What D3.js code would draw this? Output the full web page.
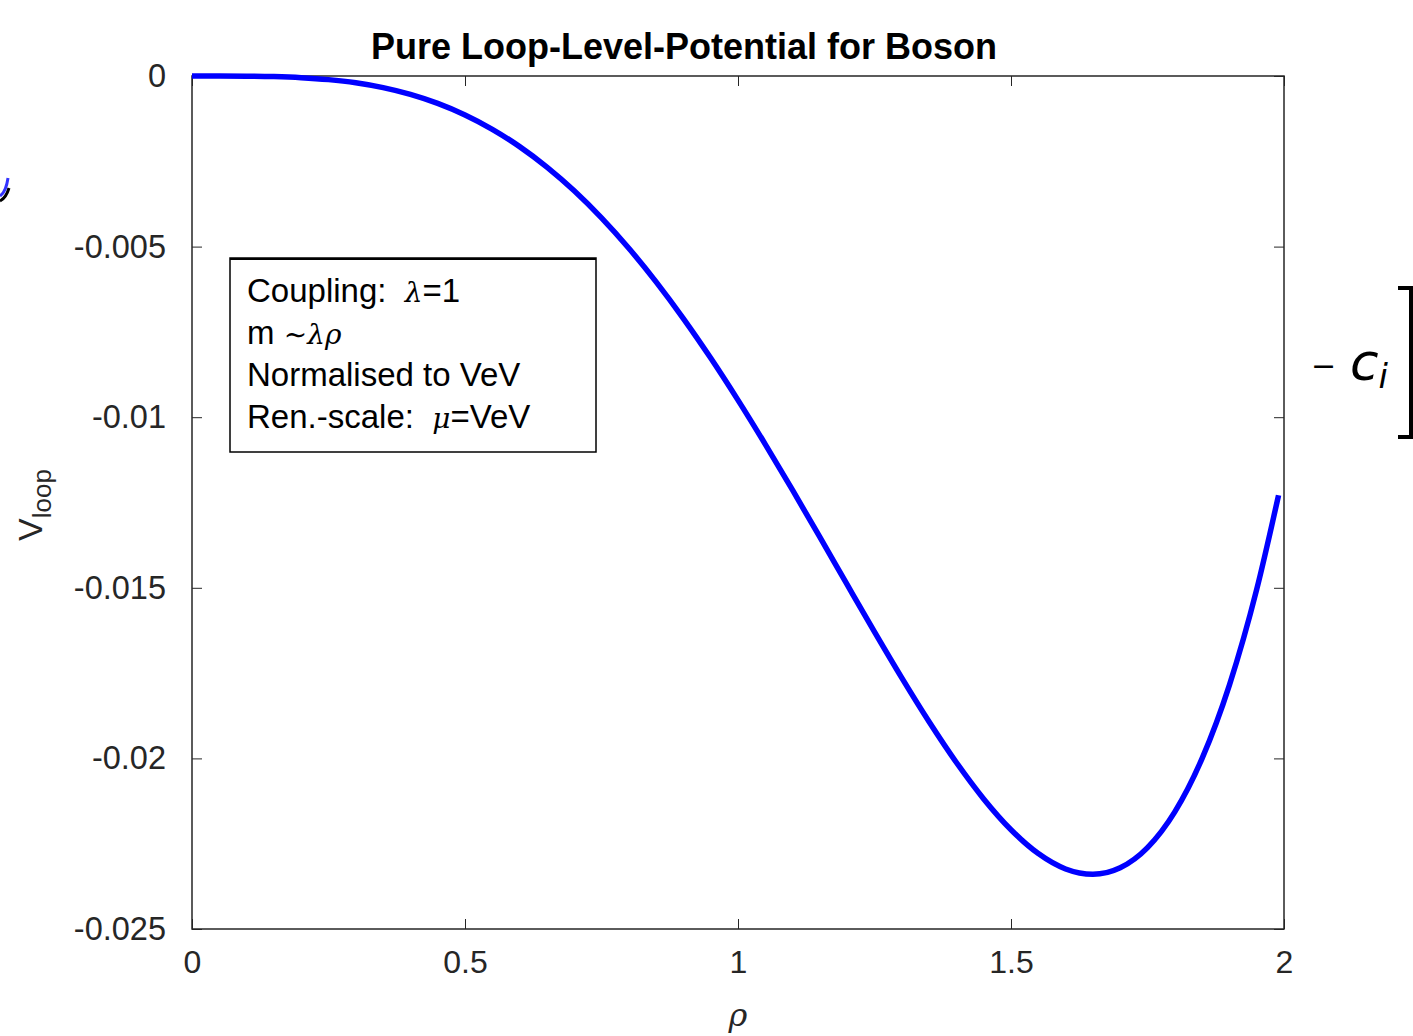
<!DOCTYPE html>
<html>
<head>
<meta charset="utf-8">
<script src="https://cdn.jsdelivr.net/npm/d3@7"></script>
<style>
  body { margin: 0; background: #fff; }
  svg { display: block; }
  text { white-space: pre; }
</style>
</head>
<body>
<div id="chart"></div>
<script>
// rho values and the loop potential
const rho = [0, 0.05, 0.1, 0.15, 0.2, 0.25, 0.3, 0.35, 0.4, 0.45, 0.5,
  0.55, 0.6, 0.65, 0.7, 0.75, 0.8, 0.85, 0.9, 0.95, 1.0,
  1.05, 1.1, 1.15, 1.2, 1.25, 1.3, 1.35, 1.4, 1.45, 1.5,
  1.55, 1.6, 1.65, 1.7, 1.75, 1.8, 1.85, 1.9, 1.95, 1.99];
const vloop = [0, -0.0000003, -0.0000039, -0.000017, -0.000048, -0.000106, -0.000200, -0.000342, -0.000540, -0.000804, -0.001142,
  -0.001562, -0.002070, -0.002670, -0.003365, -0.004158, -0.005048, -0.006033, -0.007108, -0.008266, -0.009499,
  -0.010795, -0.012140, -0.013518, -0.014909, -0.016291, -0.017639, -0.018926, -0.020120, -0.021187, -0.022091,
  -0.022790, -0.023240, -0.023396, -0.023205, -0.022615, -0.021567, -0.020000, -0.017850, -0.015048, -0.012288];

const xTicks = [0, 0.5, 1, 1.5, 2];
const xTickLabels = ["0", "0.5", "1", "1.5", "2"];
const yTicks = [0, -0.005, -0.01, -0.015, -0.02, -0.025];
const yTickLabels = ["0", "-0.005", "-0.01", "-0.015", "-0.02", "-0.025"];

const legendLines = [
  [{t: "Coupling:  "}, {t: "\u03bb", s: true}, {t: "=1"}],
  [{t: "m "}, {t: "\u223c\u03bb\u03c1", s: true}],
  [{t: "Normalised to VeV"}],
  [{t: "Ren.-scale:  "}, {t: "\u03bc", s: true}, {t: "=VeV"}]
];

const width = 1413, height = 1036;
const plotL = 192, plotR = 1284, plotT = 76, plotB = 929;
const axisColor = "#262626";
const sans = "'Liberation Sans', Arial, Helvetica, sans-serif";
const serif = "'DejaVu Serif', 'Liberation Serif', serif";

const svg = d3.select("#chart").append("svg")
  .attr("width", width)
  .attr("height", height);

const x = d3.scaleLinear().domain([0, 2]).range([plotL, plotR]);
const y = d3.scaleLinear().domain([-0.025, 0]).range([plotB, plotT]);

const data = rho.map((r, i) => ({ r: r, v: vloop[i] }));

// axes box with inward ticks on all sides
const tickLen = 10;
svg.append("g")
  .attr("transform", `translate(0,${plotB})`)
  .call(d3.axisBottom(x).tickValues(xTicks).tickSize(-tickLen).tickPadding(21)
    .tickFormat((d, i) => xTickLabels[i]))
  .call(g => g.select(".domain").remove())
  .call(g => g.selectAll("line").attr("stroke", axisColor))
  .call(g => g.selectAll("text").attr("fill", "#262626")
    .style("font-family", sans).style("font-size", "32px"));

svg.append("g")
  .attr("transform", `translate(0,${plotT})`)
  .call(d3.axisTop(x).tickValues(xTicks).tickSize(-tickLen).tickFormat(""))
  .call(g => g.select(".domain").remove())
  .call(g => g.selectAll("line").attr("stroke", axisColor));

svg.append("g")
  .attr("transform", `translate(${plotL},0)`)
  .call(d3.axisLeft(y).tickValues(yTicks).tickSize(-tickLen).tickPadding(26)
    .tickFormat((d, i) => yTickLabels[i]))
  .call(g => g.select(".domain").remove())
  .call(g => g.selectAll("line").attr("stroke", axisColor))
  .call(g => g.selectAll("text").attr("fill", "#262626")
    .style("font-family", sans).style("font-size", "32.5px"));

svg.append("g")
  .attr("transform", `translate(${plotR},0)`)
  .call(d3.axisRight(y).tickValues(yTicks).tickSize(-tickLen).tickFormat(""))
  .call(g => g.select(".domain").remove())
  .call(g => g.selectAll("line").attr("stroke", axisColor));

svg.append("rect")
  .attr("x", plotL).attr("y", plotT)
  .attr("width", plotR - plotL).attr("height", plotB - plotT)
  .attr("fill", "none")
  .attr("stroke", axisColor)
  .attr("stroke-width", 1.5);

// the curve
const line = d3.line()
  .x(d => x(d.r))
  .y(d => y(d.v))
  .curve(d3.curveMonotoneX);

svg.append("path")
  .datum(data)
  .attr("d", line)
  .attr("fill", "none")
  .attr("stroke", "#0000ff")
  .attr("stroke-width", 5.5)
  .attr("stroke-linejoin", "round");

// title and axis labels
svg.append("text")
  .attr("x", 684).attr("y", 59)
  .attr("text-anchor", "middle")
  .style("font-family", sans)
  .style("font-weight", "bold")
  .style("font-size", "36px")
  .attr("fill", "#000")
  .text("Pure Loop-Level-Potential for Boson");

svg.append("text")
  .attr("x", (plotL + plotR) / 2).attr("y", 1026)
  .attr("text-anchor", "middle")
  .style("font-family", serif)
  .style("font-style", "italic")
  .style("font-size", "32px")
  .attr("fill", "#262626")
  .text("\u03c1");

const ylab = svg.append("text")
  .attr("transform", "translate(42,505) rotate(-90)")
  .attr("text-anchor", "middle")
  .style("font-family", sans)
  .style("font-size", "34px")
  .attr("fill", "#262626");
ylab.append("tspan").text("V");
ylab.append("tspan").attr("dy", 9).style("font-size", "26px").text("loop");

// legend box
svg.append("rect")
  .attr("x", 230).attr("y", 258)
  .attr("width", 366).attr("height", 194)
  .attr("fill", "#fff")
  .attr("stroke", "#000")
  .attr("stroke-width", 1.5);
svg.append("line")
  .attr("x1", 230).attr("x2", 596)
  .attr("y1", 259).attr("y2", 259)
  .attr("stroke", "#000")
  .attr("stroke-width", 2);

legendLines.forEach((parts, i) => {
  const t = svg.append("text")
    .attr("x", 247).attr("y", 302 + i * 42)
    .style("font-family", sans)
    .style("font-size", "33px")
    .attr("fill", "#000");
  parts.forEach(p => {
    const ts = t.append("tspan").text(p.t);
    if (p.s) ts.style("font-family", serif).style("font-style", "italic").style("font-size", "28px");
  });
});

// stray fragments at the edges of the screenshot
svg.append("text")
  .attr("x", 1311).attr("y", 376)
  .style("font-family", "'DejaVu Sans', sans-serif")
  .style("font-size", "30px")
  .attr("fill", "#000")
  .text("\u2212");
const ci = svg.append("text")
  .attr("x", 1350).attr("y", 380)
  .style("font-family", "'DejaVu Sans', sans-serif")
  .style("font-style", "italic")
  .style("font-size", "52px")
  .attr("fill", "#000");
ci.append("tspan").text("c");
ci.append("tspan").attr("dy", 8).style("font-size", "34px").text("i");

svg.append("path")
  .attr("d", "M1398,288 H1411 V437 H1398")
  .attr("fill", "none")
  .attr("stroke", "#000")
  .attr("stroke-width", 4);

svg.append("path")
  .attr("d", "M0,201 Q6,198 9,188")
  .attr("fill", "none")
  .attr("stroke", "#000")
  .attr("stroke-width", 3);
svg.append("path")
  .attr("d", "M0,196 Q6,192 8,178")
  .attr("fill", "none")
  .attr("stroke", "#3333ff")
  .attr("stroke-width", 3);
</script>
</body>
</html>
